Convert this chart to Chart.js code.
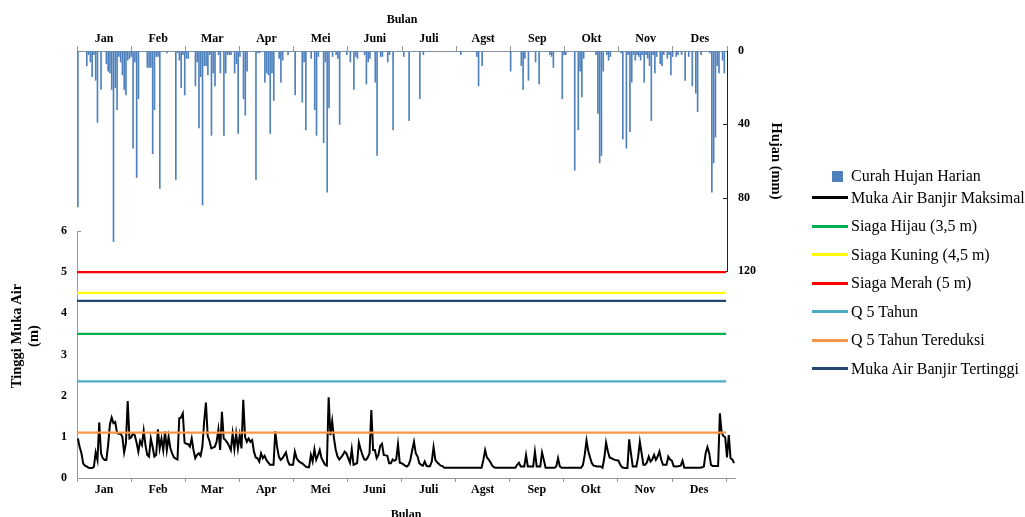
<!DOCTYPE html>
<html>
<head>
<meta charset="utf-8">
<title>Curah Hujan Harian dan Tinggi Muka Air</title>
<script src="https://cdn.jsdelivr.net/npm/chart.js@4.4.1/dist/chart.umd.min.js"></script>
<style>
  html, body { margin: 0; padding: 0; background: #fff; }
  #wrap { position: relative; width: 1025px; height: 517px; overflow: hidden; background: #fff;
          font-family: 'Liberation Serif', 'Times New Roman', serif; color: #000; }
  #wrap canvas { position: absolute; left: 0; top: 0; }
  #ytitle { position: absolute; left: -75px; top: 319px; width: 200px; height: 34px; line-height: 17px;
            text-align: center; font-weight: bold; font-size: 14.5px; transform: rotate(-90deg); }
  #legend { position: absolute; left: 0; top: 0; width: 1025px; height: 517px; pointer-events: none; }
  .lg-mark { position: absolute; }
  .lg-text { position: absolute; left: 851px; height: 20px; line-height: 20px; font-size: 16px; white-space: nowrap; }
</style>
</head>
<body>
<div id="wrap">
  <canvas id="rainChart" width="1025" height="517"></canvas>
  <canvas id="levelChart" width="1025" height="530"></canvas>
  <div id="ytitle">Tinggi Muka Air<br>(m)</div>
  <div id="legend"></div>
</div>
<script>
// Month names used on both time axes
const monthLabels = ['Jan', 'Feb', 'Mar', 'Apr', 'Mei', 'Juni', 'Juli', 'Agst', 'Sep', 'Okt', 'Nov', 'Des'];

// Daily rainfall (mm), one array per month
const rainJan = [85,0,0,0,0,8,2,6,14,2,16,39,0,21,0,0,7,11,12,21,104,20,32,3,6,13,21,24,5,4,3];
const rainFeb = [53,6,69,26,0,0,0,0,9,9,9,56,32,3,3,75,0,0,0,1,0,0,0,0,70,1,5,20];
const rainMar = [2,24,4,4,0,0,0,19,6,42,14,84,8,8,13,2,46,12,19,0,2,12,0,46,12,2,2,2,0,12,7];
const rainApr = [45,3,0,26,35,11,0,0,0,0,70,1,1,0,0,17,12,13,45,12,27,0,0,4,17,5,0,0,2,0];
const rainMei = [0,0,24,0,0,0,28,6,43,0,0,4,0,32,46,3,0,0,50,6,77,31,0,3,0,2,4,40,0,0,0];
const rainJun = [2,0,6,0,21,3,4,0,0,0,2,18,6,4,0,0,17,57,0,3,3,0,0,6,2,0,43,0,0,0];
const rainJul = [0,0,3,0,0,38,0,0,0,0,0,26,0,2,0,0,0,0,0,0,0,0,0,0,0,0,0,0,0,0,0];
const rainAgs = [0,0,0,2,0,0,0,0,0,0,0,0,3,19,0,8,0,0,0,0,0,0,0,0,0,0,0,0,0,0,0];
const rainSep = [11,0,0,0,0,0,8,21,4,0,16,0,0,0,6,0,18,0,0,0,0,0,2,3,9,0,0,0,0,26];
const rainOkt = [2,2,0,0,0,0,65,0,43,11,25,4,0,0,0,0,0,0,2,34,61,57,11,0,2,5,3,0,0,0,0];
const rainNov = [0,1,48,0,53,2,44,17,2,5,2,3,5,2,17,2,4,8,38,2,12,3,0,7,8,2,0,4,2,13];
const rainDes = [3,0,3,2,0,2,0,16,0,3,0,19,0,23,33,0,2,0,0,0,0,1,77,61,47,8,12,0,5,12,0];

// Daily maximum flood water level (m), one array per month
const levelJan = [0.96,0.75,0.6,0.35,0.3,0.28,0.25,0.24,0.24,0.27,0.62,0.44,1.35,0.6,0.48,0.44,0.44,0.8,1.3,1.47,1.33,1.36,1.1,1.07,1.08,1.0,0.62,0.84,1.87,0.96,0.99];
const levelFeb = [1.08,1.04,0.86,0.64,0.9,0.8,1.15,0.8,0.56,0.52,0.96,0.76,0.52,0.56,1.18,0.72,0.96,0.68,1.13,0.68,1.0,0.72,0.6,0.5,0.47,0.45,1.45,1.47];
const levelMar = [1.57,0.86,0.83,0.82,0.76,0.96,0.68,0.48,0.56,0.6,0.54,0.76,1.37,1.83,1.02,0.9,0.72,0.74,0.76,0.88,1.18,0.68,1.61,0.96,0.92,0.86,0.78,0.68,1.08,0.7,1.08];
const levelApr = [0.72,1.04,0.72,1.9,1.0,0.88,0.96,0.88,0.92,0.64,0.5,0.48,0.4,0.6,0.48,0.54,0.44,0.38,0.32,0.32,0.32,1.13,0.76,0.52,0.44,0.48,0.55,0.62,0.42,0.32];
const levelMei = [0.32,0.32,0.64,0.48,0.42,0.38,0.36,0.32,0.28,0.26,0.26,0.56,0.4,0.7,0.44,0.55,0.68,0.48,0.4,0.32,0.3,1.96,1.04,1.38,0.96,0.68,0.52,0.45,0.5,0.56,0.64];
const levelJun = [0.6,0.48,0.37,0.7,0.32,0.34,0.36,0.86,0.7,0.56,0.45,0.44,0.5,0.6,1.65,0.68,0.68,0.48,0.56,0.78,0.83,0.56,0.55,0.54,0.36,0.36,0.45,0.42,0.45,0.82];
const levelJul = [0.37,0.36,0.33,0.3,0.28,0.32,0.45,0.68,0.88,0.6,0.52,0.36,0.32,0.3,0.4,0.3,0.28,0.29,0.4,0.75,0.44,0.38,0.34,0.3,0.29,0.25,0.25,0.25,0.25,0.25,0.25];
const levelAgs = [0.25,0.25,0.25,0.25,0.25,0.25,0.25,0.25,0.25,0.25,0.25,0.25,0.25,0.25,0.25,0.25,0.44,0.68,0.5,0.45,0.38,0.3,0.26,0.25,0.25,0.25,0.25,0.25,0.25,0.25,0.25];
const levelSep = [0.25,0.25,0.25,0.25,0.32,0.37,0.28,0.28,0.28,0.56,0.28,0.28,0.28,0.28,0.64,0.28,0.28,0.28,0.62,0.44,0.25,0.25,0.25,0.25,0.25,0.25,0.28,0.48,0.28,0.25];
const levelOkt = [0.25,0.25,0.25,0.25,0.25,0.25,0.25,0.25,0.25,0.25,0.25,0.32,0.56,0.91,0.65,0.5,0.36,0.3,0.29,0.28,0.28,0.28,0.25,0.48,0.86,0.65,0.5,0.48,0.46,0.44,0.43];
const levelNov = [0.42,0.32,0.26,0.25,0.24,0.24,0.94,0.6,0.28,0.28,0.28,0.5,0.88,0.6,0.32,0.32,0.38,0.52,0.4,0.45,0.56,0.44,0.52,0.64,0.45,0.32,0.32,0.32,0.52,0.45];
const levelDes = [0.42,0.29,0.28,0.28,0.29,0.3,0.42,0.25,0.25,0.25,0.25,0.25,0.25,0.25,0.25,0.25,0.25,0.26,0.28,0.6,0.75,0.6,0.32,0.29,0.29,0.29,0.29,1.57,1.1,1.02,0.99];
const levelJanNext = [0.5,1.04,0.48,0.45,0.36];

// Reference levels (m)
const siagaHijau = 3.5;
const siagaKuning = 4.5;
const siagaMerah = 5;
const q5Tahun = 2.35;
const q5TahunTereduksi = 1.1;
const mabTertinggi = 4.3;

const FONT = "'Liberation Serif', 'Times New Roman', serif";

const rain = [].concat(rainJan, rainFeb, rainMar, rainApr, rainMei, rainJun,
                       rainJul, rainAgs, rainSep, rainOkt, rainNov, rainDes);
const level = [].concat(levelJan, levelFeb, levelMar, levelApr, levelMei, levelJun,
                        levelJul, levelAgs, levelSep, levelOkt, levelNov, levelDes, levelJanNext);
const daysInYear = rain.length;

// Month ticks at equal spacing, labels sitting in the middle of each month
function monthAxis(position, maxMonths, tickLength, padding, title, fitHeight) {
  return {
    type: 'linear',
    position: position,
    min: 0,
    max: maxMonths,
    offset: false,
    afterFit: s => { s.height = fitHeight; },
    afterBuildTicks: s => { s.ticks = monthLabels.map((m, i) => ({ value: i })).concat([{ value: 12 }]); },
    ticks: {
      autoSkip: false, maxRotation: 0, minRotation: 0, color: '#000', padding: padding, labelOffset: 27,
      font: { family: FONT, size: 12, weight: 'bold' },
      callback: (v, i) => monthLabels[i] || ''
    },
    grid: { offset: false, drawOnChartArea: false, drawTicks: true, tickLength: tickLength, color: '#999' },
    border: { display: true, color: '#999', width: 1 },
    title: title
  };
}

// Small inward tick marks on vertical axes
const innerTicks = {
  id: 'innerTicks',
  afterDraw(chart, args, opts) {
    const ctx = chart.ctx;
    (opts.items || []).forEach(it => {
      const s = chart.scales[it.axis];
      ctx.save();
      ctx.strokeStyle = it.color;
      ctx.lineWidth = 1;
      it.values.forEach(v => {
        const y = Math.round(s.getPixelForValue(v)) + 0.5;
        const x = it.side === 'right' ? s.left : s.right;
        ctx.beginPath();
        ctx.moveTo(x, y);
        ctx.lineTo(it.side === 'right' ? x - 4 : x + 4, y);
        ctx.stroke();
      });
      ctx.restore();
    });
  }
};

// Upper chart: daily rainfall hanging from the top axis
const rainChart = new Chart(document.getElementById('rainChart'), {
  type: 'bar',
  data: {
    datasets: [{
      label: 'Curah Hujan Harian',
      data: rain.map((v, d) => ({ x: d + 0.5, y: v })),
      backgroundColor: '#4F81BD',
      borderWidth: 0,
      barThickness: 1,
      xAxisID: 'x',
      yAxisID: 'y'
    }]
  },
  options: {
    responsive: false,
    animation: false,
    events: [],
    layout: { padding: { left: 77, right: 237, top: 0, bottom: 246 } },
    plugins: {
      legend: { display: false },
      tooltip: { enabled: false },
      innerTicks: { items: [{ axis: 'y', side: 'right', values: [40, 80, 120], color: '#222' }] }
    },
    scales: {
      x: { type: 'linear', display: false, offset: false, grid: { offset: false }, min: 0, max: daysInYear },
      xm: monthAxis('top', 12, 5, 0,
        { display: true, text: 'Bulan', color: '#000', padding: { top: 13, bottom: 0 },
          font: { family: FONT, size: 12, weight: 'bold' } }, 51),
      y: {
        type: 'linear',
        position: 'right',
        reverse: true,
        min: 0,
        max: 120,
        afterFit: s => { s.width = 61; },
        ticks: { stepSize: 40, padding: 11, color: '#000', font: { family: FONT, size: 12, weight: 'bold' } },
        grid: { drawOnChartArea: false, drawTicks: false },
        border: { display: true, color: '#222', width: 1 },
        title: { display: true, text: 'Hujan (mm)', color: '#000', padding: { top: 4, bottom: 0 },
                 font: { family: FONT, size: 14.5, weight: 'bold' } }
      }
    }
  },
  plugins: [innerTicks]
});

// Lower chart: water level with warning thresholds
function flatLine(label, value, color) {
  return {
    label: label,
    data: [{ x: 0, y: value }, { x: daysInYear, y: value }],
    borderColor: color,
    backgroundColor: color,
    borderWidth: 2.25,
    pointRadius: 0,
    order: 1
  };
}

const levelChart = new Chart(document.getElementById('levelChart'), {
  type: 'line',
  data: {
    datasets: [
      {
        label: 'Muka Air Banjir Maksimal',
        data: level.map((v, d) => ({ x: d + 0.5, y: v })),
        borderColor: '#000000',
        backgroundColor: '#000000',
        borderWidth: 2,
        pointRadius: 0,
        tension: 0,
        order: 5
      },
      flatLine('Siaga Hijau (3,5 m)', siagaHijau, '#00B050'),
      flatLine('Siaga Kuning (4,5 m)', siagaKuning, '#FFFF00'),
      flatLine('Siaga Merah (5 m)', siagaMerah, '#FF0000'),
      flatLine('Q 5 Tahun', q5Tahun, '#4BACC6'),
      flatLine('Q 5 Tahun Tereduksi', q5TahunTereduksi, '#F79646'),
      flatLine('Muka Air Banjir Tertinggi', mabTertinggi, '#264672')
    ]
  },
  options: {
    responsive: false,
    animation: false,
    events: [],
    layout: { padding: { left: 0, right: 290, top: 231, bottom: 0 } },
    plugins: {
      legend: { display: false },
      tooltip: { enabled: false },
      innerTicks: { items: [{ axis: 'y', side: 'left', values: [6], color: '#999' }] }
    },
    scales: {
      x: { type: 'linear', display: false, min: 0, max: level.length },
      xm: monthAxis('bottom', 12 * level.length / daysInYear, 4, 1,
        { display: true, text: 'Bulan', color: '#000', padding: { top: 0, bottom: 8 },
          font: { family: FONT, size: 12, weight: 'bold' } }, 52),
      y: {
        type: 'linear',
        position: 'left',
        min: 0,
        max: 6,
        afterFit: s => { s.width = 77; },
        ticks: { stepSize: 1, padding: 10, color: '#000', font: { family: FONT, size: 12, weight: 'bold' } },
        grid: { drawOnChartArea: false, drawTicks: false },
        border: { display: true, color: '#999', width: 1 }
      }
    }
  },
  plugins: [innerTicks]
});

// Legend built from the datasets of both charts
(function buildLegend() {
  const box = document.getElementById('legend');
  const entries = [{ ds: rainChart.data.datasets[0], square: true }]
    .concat(levelChart.data.datasets.map(ds => ({ ds: ds, square: false })));
  entries.forEach((e, i) => {
    const cy = i === 0 ? 176 : 197.5 + (i - 1) * 28.5;
    const mark = document.createElement('div');
    mark.className = 'lg-mark';
    if (e.square) {
      Object.assign(mark.style, { left: '832px', top: (cy - 5.5) + 'px', width: '11px', height: '11px',
                                  background: e.ds.backgroundColor });
    } else {
      Object.assign(mark.style, { left: '812px', top: (cy - 1.5) + 'px', width: '36px', height: '3px',
                                  background: e.ds.borderColor });
    }
    const txt = document.createElement('div');
    txt.className = 'lg-text';
    txt.style.top = (cy - 10) + 'px';
    txt.textContent = e.ds.label;
    box.appendChild(mark);
    box.appendChild(txt);
  });
})();
</script>
</body>
</html>
